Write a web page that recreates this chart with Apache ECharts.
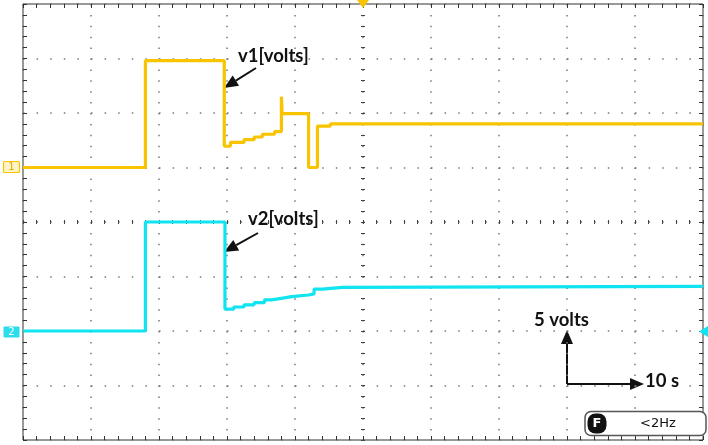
<!DOCTYPE html>
<html>
<head>
<meta charset="utf-8">
<script src="https://cdn.jsdelivr.net/npm/echarts@6/dist/echarts.min.js"></script>
<style>
html, body { margin: 0; padding: 0; background: #fff; }
#chart { width: 708px; height: 445px; }
</style>
</head>
<body>
<div id="chart"></div>
<script>
// scope settings: 10 s / div, 5 V / div
const timeRange = [0, 100];
const ch1Range = [-25, 15];   // ch1 ground 3 div below top
const ch2Range = [-10, 30];   // ch2 ground 2 div above bottom

// channel 1 (yellow) - sample-and-hold points, value holds until next time
const ch1Time  = [0, 18.0, 29.6, 30.5, 32.5, 34.0, 35.2, 37.0, 38.0, 38.1, 42.0, 43.3, 45.2, 100];
const ch1Volts = [0, 9.8, 1.95, 2.3, 2.55, 2.8, 3.05, 3.3, 6.5, 4.95, 0, 3.8, 4.0, 4.0];

// channel 2 (cyan)
const ch2Time  = [0, 18.0, 29.7, 31.0, 32.5, 34.0, 35.5, 36.5, 38.0, 39.5, 42.0, 42.8, 44.0, 47.0, 100];
const ch2Volts = [0, 10.0, 2.0, 2.2, 2.4, 2.6, 2.85, 3.0, 3.15, 3.3, 3.4, 3.85, 4.0, 4.1, 4.1];

const YELLOW = '#F8C400';
const CYAN = '#10E4F0';
const DARK = '#333';
const DOTS = '#777';

const toPoints = (t, v) => t.map((x, i) => [x, v[i]]);

// border / centre tick axis
const tickAxis = (extra) => Object.assign({
  type: 'value',
  axisLabel: { show: false },
  axisLine: { show: false, onZero: false },
  axisTick: { show: true, inside: true, length: 4, lineStyle: { color: DARK } },
  minorTick: { show: true, splitNumber: 5, length: 4, lineStyle: { color: DARK } },
  splitLine: { show: false }
}, extra);

const centreTick = (inside) => ({
  show: true, inside: inside, length: 2, lineStyle: { color: '#444' }
});

function arrow(x1, y1, x2, y2) {
  const head = 14, w = 6;
  const a = Math.atan2(y2 - y1, x2 - x1);
  const bx = x2 - head * Math.cos(a), by = y2 - head * Math.sin(a);
  return [
    { type: 'line', shape: { x1: x1, y1: y1, x2: bx, y2: by }, style: { stroke: '#111', lineWidth: 2 } },
    { type: 'polygon', shape: { points: [[x2, y2], [bx - w * Math.sin(a), by + w * Math.cos(a)], [bx + w * Math.sin(a), by - w * Math.cos(a)]] }, style: { fill: '#111' } }
  ];
}

const labelFont = 'bold 18.5px Lato, "Open Sans", sans-serif';
const label = (text, x, y) => ({
  type: 'text', z: 100,
  style: { text: text, x: x, y: y, font: labelFont, fill: '#111', textVerticalAlign: 'middle' }
});

const chart = echarts.init(document.getElementById('chart'), null, { renderer: 'canvas' });

const option = {
  animation: false,
  backgroundColor: '#fff',
  grid: {
    left: 23, top: 4, right: 5, bottom: 5,
    show: true, borderColor: DARK, borderWidth: 1, backgroundColor: 'transparent'
  },
  xAxis: [
    tickAxis({
      min: timeRange[0], max: timeRange[1], interval: 10, position: 'bottom',
      splitLine: { show: true, lineStyle: { color: DOTS, width: 1.5, type: [1.5, 9.4] } }
    }),
    tickAxis({ min: timeRange[0], max: timeRange[1], interval: 10, position: 'top' }),
    // centre graticule (divisions)
    tickAxis({ min: -5, max: 5, interval: 1, position: 'bottom',
      axisLine: { show: false, onZero: true, onZeroAxisIndex: 2 },
      axisTick: centreTick(true), minorTick: Object.assign(centreTick(true), { splitNumber: 5 }) }),
    tickAxis({ min: -5, max: 5, interval: 1, position: 'bottom',
      axisLine: { show: false, onZero: true, onZeroAxisIndex: 2 },
      axisTick: centreTick(false), minorTick: Object.assign(centreTick(false), { splitNumber: 5 }) })
  ],
  yAxis: [
    tickAxis({
      min: ch1Range[0], max: ch1Range[1], interval: 5, position: 'left',
      splitLine: { show: true, lineStyle: { color: DOTS, width: 1.5, type: [1.5, 12.1] } }
    }),
    tickAxis({ min: ch2Range[0], max: ch2Range[1], interval: 5, position: 'right' }),
    tickAxis({ min: -4, max: 4, interval: 1, position: 'left',
      axisLine: { show: false, onZero: true, onZeroAxisIndex: 2 },
      axisTick: centreTick(true), minorTick: Object.assign(centreTick(true), { splitNumber: 5 }) }),
    tickAxis({ min: -4, max: 4, interval: 1, position: 'left',
      axisLine: { show: false, onZero: true, onZeroAxisIndex: 2 },
      axisTick: centreTick(false), minorTick: Object.assign(centreTick(false), { splitNumber: 5 }) })
  ],
  series: [
    {
      name: 'v1', type: 'line', step: 'end', showSymbol: false, xAxisIndex: 0, yAxisIndex: 0,
      data: toPoints(ch1Time, ch1Volts),
      lineStyle: { color: YELLOW, width: 3.2 }, z: 5
    },
    {
      name: 'v2', type: 'line', step: 'end', showSymbol: false, xAxisIndex: 0, yAxisIndex: 1,
      data: toPoints(ch2Time, ch2Volts),
      lineStyle: { color: CYAN, width: 3.2 }, z: 5
    }
  ],
  graphic: [
    // channel markers
    { type: 'rect', shape: { x: 3.5, y: 161.5, width: 16, height: 11, r: 1 }, style: { fill: '#FFF4C8', stroke: YELLOW, lineWidth: 1.2 } },
    { type: 'text', style: { text: '1', x: 11.5, y: 167.5, font: '10px "DejaVu Sans", sans-serif', fill: '#E0AE00', textAlign: 'center', textVerticalAlign: 'middle' } },
    { type: 'rect', shape: { x: 3.5, y: 326.5, width: 16, height: 11, r: 1 }, style: { fill: '#2ADCEC' } },
    { type: 'text', style: { text: '2', x: 11.5, y: 332, font: '10px "DejaVu Sans", sans-serif', fill: '#fff', textAlign: 'center', textVerticalAlign: 'middle' } },
    // trigger position / level markers
    { type: 'polygon', z: 50, shape: { points: [[357, 0], [369, 0], [363, 8]] }, style: { fill: YELLOW } },
    { type: 'polygon', z: 50, shape: { points: [[708, 326], [708, 337], [699, 331.5]] }, style: { fill: CYAN } },
    // annotations
    label('v1[volts]', 238, 56),
    ...arrow(256, 68, 224, 88),
    label('v2[volts]', 248, 219),
    ...arrow(258, 233, 224, 252),
    label('5 volts', 534, 320),
    ...arrow(567, 384, 567, 330),
    ...arrow(567, 384, 644, 384),
    label('10 s', 645, 381),
    // frequency readout box
    { type: 'rect', z: 60, shape: { x: 585, y: 411.5, width: 121, height: 24, r: 6 }, style: { fill: '#fff', stroke: '#555', lineWidth: 1.5 } },
    { type: 'rect', z: 61, shape: { x: 587.5, y: 413.5, width: 19, height: 20, r: 8 }, style: { fill: '#111' } },
    { type: 'text', z: 62, style: { text: 'F', x: 597, y: 424, font: 'bold 13px "DejaVu Sans", sans-serif', fill: '#fff', textAlign: 'center', textVerticalAlign: 'middle' } },
    { type: 'text', z: 62, style: { text: '<2Hz', x: 640, y: 424, font: '13px "DejaVu Sans", sans-serif', fill: '#111', textVerticalAlign: 'middle' } }
  ]
};

chart.setOption(option);
window.addEventListener('resize', () => chart.resize());
</script>
</body>
</html>
